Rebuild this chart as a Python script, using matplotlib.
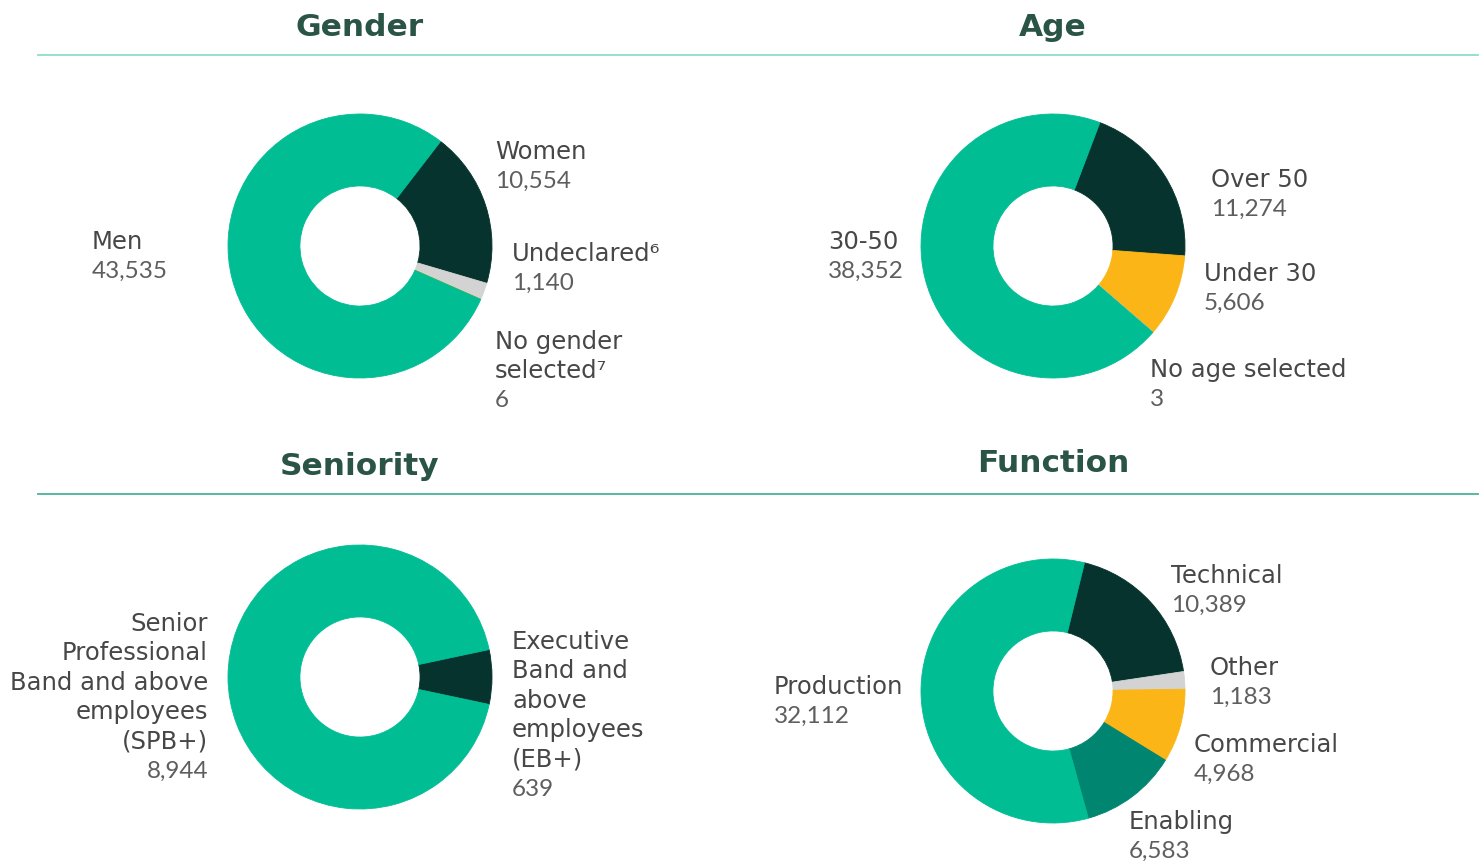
import matplotlib.pyplot as plt

# data
gender_labels = ['Women', 'Undeclared⁶', 'No gender\nselected⁷', 'Men']
gender_values = [10554, 1140, 6, 43535]
age_labels = ['Over 50', 'Under 30', 'No age selected', '30-50']
age_values = [11274, 5606, 3, 38352]
seniority_labels = ['Executive\nBand and\nabove\nemployees\n(EB+)',
                    'Senior\nProfessional\nBand and above\nemployees\n(SPB+)']
seniority_values = [639, 8944]
function_labels = ['Technical', 'Other', 'Commercial', 'Enabling', 'Production']
function_values = [10389, 1183, 4968, 6583, 32112]

TEAL = '#00bd94'
DARK = '#06332d'
GREY = '#d3d3d3'
YELLOW = '#fbb516'
MIDTEAL = '#008571'
TITLE_C = '#2a5446'
LABEL_C = '#474747'
VALUE_C = '#5e5e5e'

W, H = 1484, 862
fig = plt.figure(figsize=(W / 100, H / 100), dpi=100)

# overlay axes in pixel coordinates for titles, rules and labels
ov = fig.add_axes([0, 0, 1, 1])
ov.set_xlim(0, W)
ov.set_ylim(H, 0)
ov.axis('off')


def donut(cx, cy, values, colors, start):
    r = 132
    ax = fig.add_axes([(cx - r) / W, 1 - (cy + r) / H, 2 * r / W, 2 * r / H])
    ax.pie(values, colors=colors, startangle=start, counterclock=False,
           radius=1, wedgeprops=dict(width=0.545, linewidth=0.6))
    for w, c in zip(ax.patches, colors):
        w.set_edgecolor(c)
    ax.set_xlim(-1, 1)
    ax.set_ylim(-1, 1)
    ax.set_zorder(2)


def label(x, y, name, value, ha='left'):
    y += 2
    lines = name.split('\n')
    for i, ln in enumerate(lines):
        ov.text(x, y + i * 29.5, ln, ha=ha, va='center', fontsize=17.5,
                color=LABEL_C, family=['DejaVu Sans'])
    ov.text(x, y + len(lines) * 29.5, f'{value:,}', ha=ha, va='center',
            fontsize=17.5, color=VALUE_C, family=['Lato', 'DejaVu Sans'])


# titles and rules
for t, x, y in [('Gender', 360, 28), ('Age', 1053, 28),
                ('Seniority', 360, 467), ('Function', 1053, 464)]:
    ov.text(x, y, t, ha='center', va='center', fontsize=22.5, fontweight='bold',
            color=TITLE_C)
ov.plot([38, 1478], [55.5, 55.5], color='#8fdcc8', lw=1.3)
ov.plot([38, 1478], [494.5, 494.5], color='#4bb39a', lw=1.3)

# gender
donut(360, 247, gender_values, [DARK, GREY, YELLOW, TEAL], 52.4)
label(495, 150, gender_labels[0], gender_values[0])
label(512, 252, gender_labels[1], gender_values[1])
label(495, 340, gender_labels[2], gender_values[2])
label(92, 240, gender_labels[3], gender_values[3])

# age
donut(1053, 247, age_values, [DARK, YELLOW, GREY, TEAL], 69.2)
label(1211, 178, age_labels[0], age_values[0])
label(1204, 272, age_labels[1], age_values[1])
label(1150, 368, age_labels[2], age_values[2])
label(828, 240, age_labels[3], age_values[3])

# seniority
donut(360, 678, seniority_values, [DARK, TEAL], 12)
label(512, 640, seniority_labels[0], seniority_values[0])
label(208, 622, seniority_labels[1], seniority_values[1], ha='right')

# function
donut(1053, 692, function_values, [DARK, GREY, YELLOW, MIDTEAL, TEAL], 76.2)
label(1171, 574, function_labels[0], function_values[0])
label(1210, 666, function_labels[1], function_values[1])
label(1194, 743, function_labels[2], function_values[2])
label(1129, 820, function_labels[3], function_values[3])
label(774, 685, function_labels[4], function_values[4])

fig.savefig('out.png', dpi=100)
